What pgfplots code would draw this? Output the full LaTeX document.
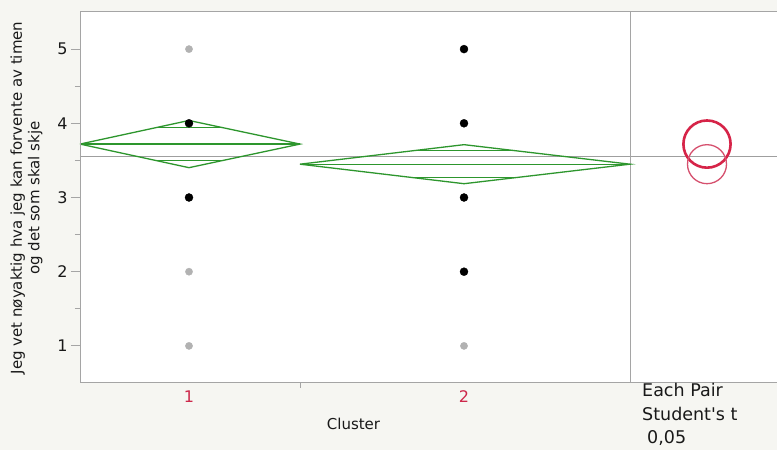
\documentclass[border=0pt]{standalone}
\usepackage{pgfplots}
\pgfplotsset{compat=1.18}
\usepackage{fontspec}
\setmainfont{DejaVu Sans}
\definecolor{bg}{RGB}{246,246,242}
\definecolor{jgreen}{RGB}{45,150,45}
\definecolor{jred}{RGB}{214,36,72}
\definecolor{jred2}{RGB}{214,80,110}
\definecolor{tickred}{RGB}{205,40,75}
\definecolor{frame}{RGB}{165,165,165}
\definecolor{ptgray}{RGB}{178,178,178}
\definecolor{txt}{RGB}{25,25,25}
\begin{document}
\begin{tikzpicture}[x=1pt,y=1pt]
\useasboundingbox (0,0) rectangle (777,450);
\fill[bg] (0,0) rectangle (777,450);
\fill[white] (80,67) rectangle (777,438);
\begin{axis}[
  at={(80pt,67pt)}, anchor=south west,
  width=697pt, height=371pt, scale only axis,
  xmin=0, xmax=697, ymin=0.5, ymax=5.5,
  axis line style={draw=none},
  tick align=outside,
  ytick pos=left, xtick pos=bottom,
  ytick={1,2,3,4,5},
  minor ytick={1.5,2.5,3.5,4.5},
  major tick length=9pt, minor tick length=5pt,
  tick style={draw=frame, line width=0.8pt},
  xtick={109,384}, xticklabels={1,2},
  xtick style={draw=none},
  xticklabel style={text=tickred, yshift=5pt},
  yticklabel style={text=txt},
  tick label style={font=\fontsize{16}{18}\selectfont},
  /pgf/number format/assume math mode=true,
  clip=false,
]
% grand mean
\addplot[draw=gray!75, line width=1pt] coordinates {(0,3.557) (697,3.557)};
% separator
\addplot[draw=frame, line width=1pt] coordinates {(550,0.5) (550,5.5)};
% cluster 1 diamond
\addplot[jgreen, line width=1.3pt] coordinates {(0,3.72) (109,4.038) (220,3.72) (109,3.402) (0,3.72)};
\addplot[jgreen, line width=1.3pt] coordinates {(0,3.72) (220,3.72)};
\addplot[jgreen, line width=1.3pt] coordinates {(77.5,3.946) (141.1,3.946)};
\addplot[jgreen, line width=1.3pt] coordinates {(77.5,3.494) (141.1,3.494)};
% cluster 2 diamond
\addplot[jgreen, line width=1.3pt] coordinates {(220,3.449) (384,3.712) (550,3.449) (384,3.186) (220,3.449)};
\addplot[jgreen, line width=1.3pt] coordinates {(220,3.449) (550,3.449)};
\addplot[jgreen, line width=1.3pt] coordinates {(333.5,3.631) (435.1,3.631)};
\addplot[jgreen, line width=1.3pt] coordinates {(333.5,3.267) (435.1,3.267)};
% points
\addplot[only marks, mark=*, mark size=3.6pt, mark options={draw=ptgray, fill=ptgray}] coordinates {(109,5) (109,2) (109,1) (384,1)};
\addplot[only marks, mark=*, mark size=4pt, mark options={draw=black, fill=black}] coordinates {(109,4) (109,3) (384,5) (384,4) (384,3) (384,2)};
% comparison circles
\addplot[only marks, mark=o, mark size=23.6pt, mark options={draw=jred, line width=2.6pt}] coordinates {(627,3.72)};
\addplot[only marks, mark=o, mark size=19.5pt, mark options={draw=jred2, line width=1.3pt}] coordinates {(627,3.449)};
\end{axis}
% frame
\draw[frame, line width=1pt] (80,67) -- (80,438);
\draw[frame, line width=1pt] (80,438) -- (777,438);
\draw[frame, line width=1pt] (80,67) -- (777,67);
\draw[frame, line width=0.8pt] (300,67) -- (300,62);
% labels
\node[rotate=90, align=center, text=txt, font=\fontsize{15}{17.5}\selectfont] at (26.5,252) {Jeg vet nøyaktig hva jeg kan forvente av timen\\og det som skal skje};
\node[text=txt, font=\fontsize{15}{18}\selectfont] at (353.5,26) {Cluster};
\node[anchor=base west, text=txt, font=\fontsize{17.5}{20}\selectfont, inner sep=0pt] at (642,53) {Each Pair};
\node[anchor=base west, text=txt, font=\fontsize{17.5}{20}\selectfont, inner sep=0pt] at (642,29.5) {Student\textquotesingle s t};
\node[anchor=base west, text=txt, font=\fontsize{17.5}{20}\selectfont, inner sep=0pt] at (647,6) {0,05};
\end{tikzpicture}
\end{document}
